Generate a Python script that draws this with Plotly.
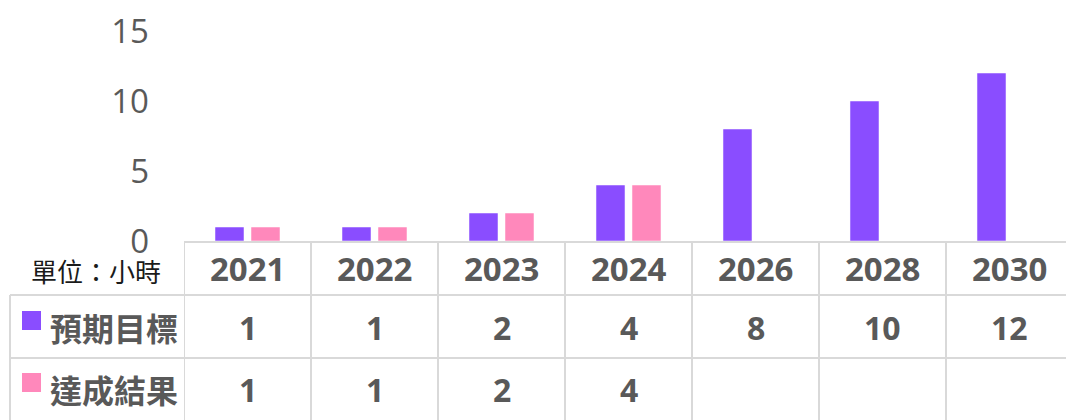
import plotly.graph_objects as go

# Data
years = ["2021", "2022", "2023", "2024", "2026", "2028", "2030"]
target = [1, 1, 2, 4, 8, 10, 12]          # 預期目標
achieved = [1, 1, 2, 4, None, None, None]  # 達成結果
series_names = ["預期目標", "達成結果"]
unit_label = "單位：小時"
y_ticks = [0, 5, 10, 15]

PURPLE = "#8A4DFF"
PINK = "#FF88BB"
GRAY = "#595959"
GRID = "#D9D9D9"
FONT = "Open Sans, Noto Sans CJK TC, sans-serif"
CJK = "Noto Sans CJK TC, sans-serif"

W, H = 1066, 420
M_L, M_T, M_B = 184, 31, 179
PLOT_W = W - M_L
PLOT_H = H - M_T - M_B
X_RANGE = [-0.5, -0.5 + PLOT_W / 127.0]


def py(pix):
    """pixel row -> paper y"""
    return (H - M_B - pix) / PLOT_H


def px(pix):
    """pixel column -> paper x"""
    return (pix - M_L) / PLOT_W


fig = go.Figure()
fig.add_trace(go.Bar(x=years, y=target, name=series_names[0],
                     marker=dict(color=PURPLE, line=dict(color="rgba(255,255,255,0.5)", width=1))))
fig.add_trace(go.Bar(x=years, y=achieved, name=series_names[1],
                     marker=dict(color=PINK, line=dict(color="rgba(255,255,255,0.5)", width=1))))

shapes = []
annotations = []

# vertical cell borders of the data table
for i in range(len(years)):
    shapes.append(dict(type="line", xref="x", yref="paper",
                       x0=i - 0.5, x1=i - 0.5, y0=py(241), y1=py(425),
                       line=dict(color=GRID, width=2)))
# left border of the series rows
shapes.append(dict(type="line", xref="paper", yref="paper",
                   x0=px(10), x1=px(10), y0=py(295), y1=py(425),
                   line=dict(color=GRID, width=2)))
# horizontal row borders
for row_y in (295, 358):
    shapes.append(dict(type="line", xref="paper", yref="paper",
                       x0=px(10), x1=1.02, y0=py(row_y), y1=py(row_y),
                       line=dict(color=GRID, width=2)))


def label(text, xref, x, y, size, family, color, xanchor="center"):
    annotations.append(dict(text=text, xref=xref, yref="paper", x=x, y=y,
                            xanchor=xanchor, yanchor="middle", showarrow=False,
                            font=dict(family=family, size=size, color=color)))


# header row: unit + years
label(unit_label, "paper", px(96), py(270), 26, CJK, "#1a1a1a")
for i, yr in enumerate(years):
    label(f"<b>{yr}</b>", "x", i, py(268), 33, FONT, GRAY)

# series rows
for name, color, vals, row_c in ((series_names[0], PURPLE, target, 327),
                                 (series_names[1], PINK, achieved, 389)):
    shapes.append(dict(type="rect", xref="paper", yref="paper",
                       x0=px(22), x1=px(41), y0=py(row_c - 16), y1=py(row_c + 3),
                       fillcolor=color, line=dict(width=0)))
    label(f"<b>{name}</b>", "paper", px(48), py(row_c), 32, CJK, GRAY, xanchor="left")
    for i, v in enumerate(vals):
        if v is None:
            continue
        label(f"<b>{v}</b>", "x", i, py(row_c), 32, FONT, GRAY)

fig.update_layout(
    width=W, height=H,
    margin=dict(l=M_L, r=0, t=M_T, b=M_B),
    plot_bgcolor="white", paper_bgcolor="white",
    barmode="group", bargap=0.433, bargroupgap=0.194,
    showlegend=False,
    shapes=shapes, annotations=annotations,
    xaxis=dict(type="category", range=X_RANGE, showticklabels=False,
               showgrid=False, zeroline=False, showline=True,
               linecolor=GRID, linewidth=2, ticks=""),
    yaxis=dict(range=[0, 15], tickvals=y_ticks, showgrid=False, zeroline=False,
               showline=False, ticks="", ticklabelstandoff=34,
               tickfont=dict(family=FONT, size=33, color=GRAY)),
)

fig.write_html("out.html")
